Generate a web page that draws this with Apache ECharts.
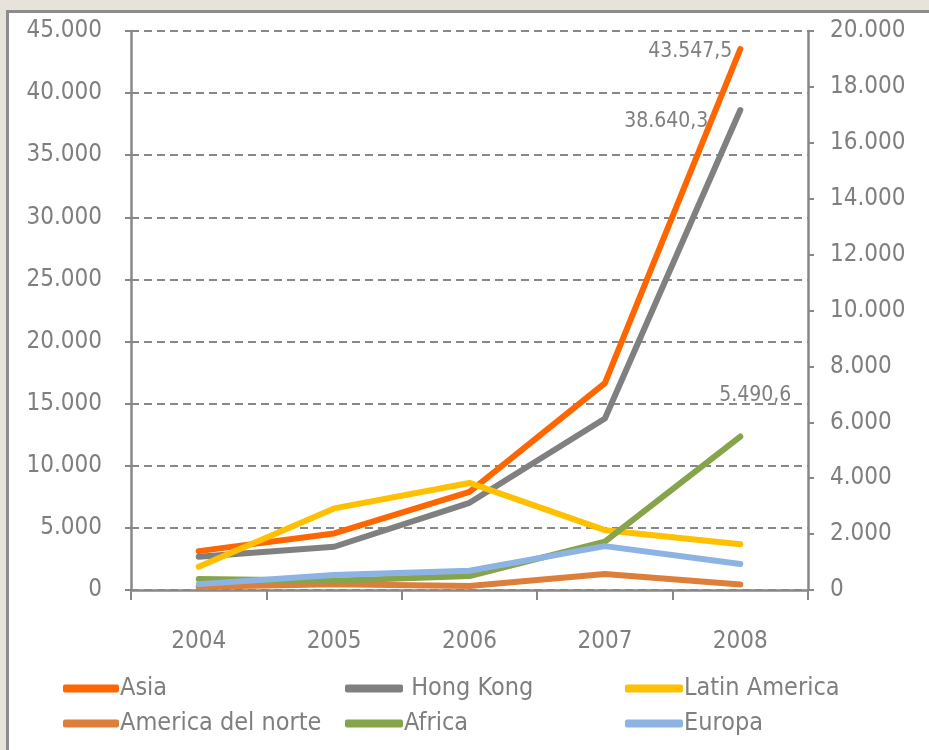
<!DOCTYPE html>
<html><head><meta charset="utf-8">
<script src="https://cdn.jsdelivr.net/npm/echarts@6/dist/echarts.min.js"></script>
<style>
html,body{margin:0;padding:0;background:#e7e3db;width:929px;height:750px;overflow:hidden;}
#frame{position:absolute;left:6px;top:10px;width:920px;height:737px;border-left:3px solid #8c8c8c;border-top:3px solid #8c8c8c;background:#fff;}
#chart{position:absolute;left:0;top:0;width:929px;height:750px;}
</style></head><body>
<div id="frame"></div>
<div id="chart"></div>
<script>
var years = ['2004','2005','2006','2007','2008'];
var asia = [3130, 4550, 7900, 16660, 43547.5];
var hongKong = [2680, 3480, 7020, 13800, 38640.3];
var latinAmerica = [830, 2920, 3830, 2140, 1640];
var americaNorte = [120, 210, 140, 570, 200];
var africa = [390, 330, 500, 1730, 5490.6];
var europa = [210, 540, 690, 1570, 930];
var leftTicks = [0, 5000, 10000, 15000, 20000, 25000, 30000, 35000, 40000, 45000];
var rightTicks = [0, 2000, 4000, 6000, 8000, 10000, 12000, 14000, 16000, 18000, 20000];

var FONT = '"DejaVu Sans Condensed", "Liberation Sans Narrow", sans-serif';
var GRAY = '#7f7f7f';
function fmt(v){ return String(v).replace(/\B(?=(\d{3})+(?!\d))/g, '.'); }
function fmtDec(v){ var p = String(v).split('.'); return fmt(p[0]) + (p[1] ? ',' + p[1] : ''); }

var chart = echarts.init(document.getElementById('chart'), null, {renderer:'canvas'});
function lastLabel(arr, opts){
  return arr.map(function(v,i){
    if(i === arr.length-1){ return {value:v, label:Object.assign({show:true, formatter:function(p){return fmtDec(p.value);}, color:GRAY, fontFamily:FONT, fontSize:21}, opts)}; }
    return v;
  });
}
function mk(name, data, color, axis){
  return {name:name, type:'line', data:data, yAxisIndex:axis, symbol:'circle', symbolSize:0.1, showSymbol:true, smooth:false,
    lineStyle:{width:6, color:color, cap:'round', join:'round'}, itemStyle:{color:color}, emphasis:{disabled:true}};
}
var option = {
  animation:false,
  grid:{left:131, right:121, top:31, bottom:160, containLabel:false},
  xAxis:{type:'category', data:years, boundaryGap:true,
    axisLine:{lineStyle:{color:'#888', width:2.5}},
    axisTick:{show:true, length:10, lineStyle:{color:'#888', width:2}},
    axisLabel:{color:GRAY, fontFamily:FONT, fontSize:24, margin:40}},
  yAxis:[
    {type:'value', min:0, max:45000, interval:5000, position:'left',
      axisLine:{show:true, lineStyle:{color:'#888', width:2.5}},
      axisTick:{show:true, length:6, lineStyle:{color:'#888', width:2}},
      axisLabel:{color:GRAY, fontFamily:FONT, fontSize:24, margin:29, formatter:function(v){return fmt(v);}},
      splitLine:{show:true, lineStyle:{color:'#888', width:2, type:[8,5]}}},
    {type:'value', min:0, max:20000, interval:2000, position:'right',
      axisLine:{show:true, lineStyle:{color:'#888', width:2.5}},
      axisTick:{show:true, length:6, lineStyle:{color:'#888', width:2}},
      axisLabel:{color:GRAY, fontFamily:FONT, fontSize:24, margin:22, formatter:function(v){return fmt(v);}},
      splitLine:{show:false}}
  ],
  legend:[
    {orient:'vertical', left:58, top:671, itemWidth:56, itemHeight:8, itemGap:10, icon:'roundRect',
      textStyle:{color:GRAY, fontFamily:FONT, fontSize:25, padding:[0,0,0,-4]}, data:['Asia','America del norte']},
    {orient:'vertical', left:340, top:671, itemWidth:58, itemHeight:8, itemGap:10, icon:'roundRect',
      textStyle:{color:GRAY, fontFamily:FONT, fontSize:25, padding:[0,0,0,-4]}, data:[' Hong Kong','Africa']},
    {orient:'vertical', left:620, top:671, itemWidth:58, itemHeight:8, itemGap:10, icon:'roundRect',
      textStyle:{color:GRAY, fontFamily:FONT, fontSize:25, padding:[0,0,0,-4]}, data:['Latin America','Europa']}
  ],
  series:[
    mk('Asia', lastLabel(asia, {position:'left', distance:8, offset:[0,3]}), '#ff6600', 0),
    mk(' Hong Kong', lastLabel(hongKong, {position:'left', distance:32, offset:[0,12]}), '#808080', 0),
    mk('Latin America', latinAmerica, '#ffc000', 1),
    mk('America del norte', americaNorte, '#dd7f3a', 1),
    mk('Africa', lastLabel(africa, {position:'top', distance:30, offset:[15,0]}), '#86a44a', 1),
    mk('Europa', europa, '#8db3e2', 1)
  ]
};
chart.setOption(option);
</script>
</body></html>
